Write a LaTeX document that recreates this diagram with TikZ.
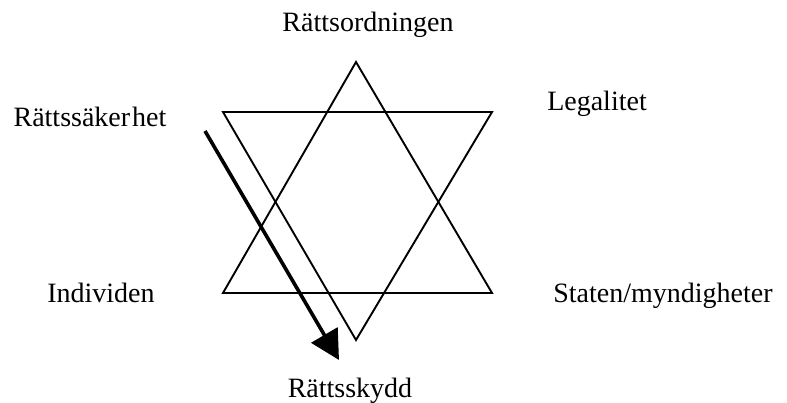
\documentclass[tikz,border=0pt]{standalone}
\usepackage{fontspec}
\setmainfont{Liberation Serif}
\usetikzlibrary{arrows.meta}
\begin{document}
\begin{tikzpicture}[x=1pt,y=-1pt,
  lbl/.style={anchor=base,inner sep=0pt,font=\fontsize{28}{33}\selectfont},
  starline/.style={line width=1.9pt,line join=miter},
  bigarrow/.style={line width=3.6pt,-{Triangle[length=29pt,width=30pt]}}]
\useasboundingbox (0,0) rectangle (787,403);
% star corners
\coordinate (ua) at (356,62);
\coordinate (ul) at (223,293);
\coordinate (ur) at (492,293);
\coordinate (dl) at (223,112);
\coordinate (dr) at (492,112);
\coordinate (da) at (356,340);
\draw[starline] (ua) -- (ur) -- (ul) -- cycle;
\draw[starline] (dl) -- (dr) -- (da) -- cycle;
% arrow
\coordinate (as) at (205,131);
\coordinate (ae) at (339,360);
\draw[bigarrow] (as) -- (ae);
% labels
\node[lbl] (top) at (368,32) {Rättsordningen};
\node[lbl] (leg) at (597,111) {Legalitet};
\node[lbl] (rs) at (90,127) {Rättssäker\kern2pt het};
\node[lbl] (ind) at (101,303) {Individen};
\node[lbl] (sta) at (663,303) {Staten/myndigheter};
\node[lbl] (sky) at (350,397) {Rättsskydd};
\end{tikzpicture}
\end{document}
